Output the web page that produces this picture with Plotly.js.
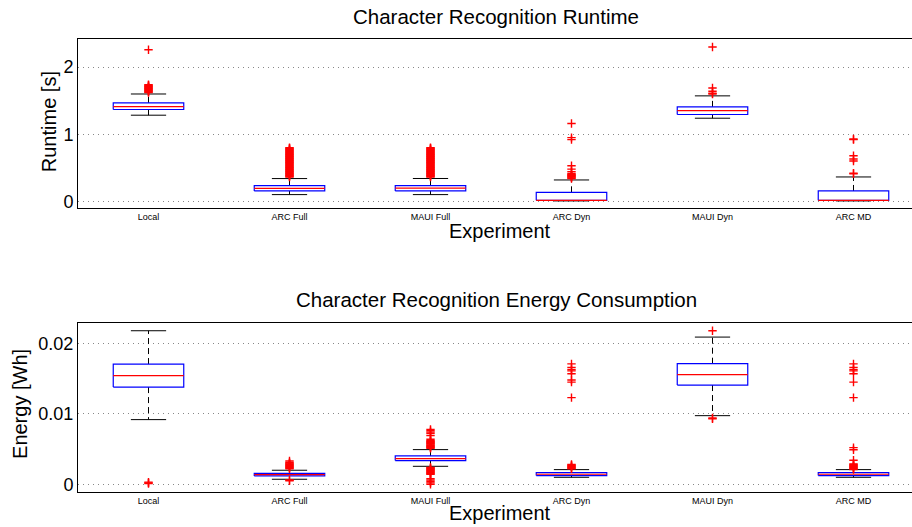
<!DOCTYPE html>
<html>
<head>
<meta charset="utf-8">
<script src="https://cdn.plot.ly/plotly-3.0.1.min.js"></script>
<style>
html,body{margin:0;padding:0;overflow:hidden;background:#fff;width:912px;height:527px;}
#chart{width:930px;height:527px;}
</style>
</head>
<body>
<div id="chart"></div>
<script>
// ---- Data ----
const categories = ["Local", "ARC Full", "MAUI Full", "ARC Dyn", "MAUI Dyn", "ARC MD"];

// Runtime [s]
const rtLow    = [1.284, 0.100, 0.100, 0.006, 1.239, 0.006];
const rtQ1     = [1.369, 0.154, 0.155, 0.014, 1.294, 0.014];
const rtMedian = [1.413, 0.194, 0.195, 0.014, 1.353, 0.014];
const rtQ3     = [1.467, 0.233, 0.235, 0.134, 1.408, 0.154];
const rtHigh   = [1.600, 0.339, 0.340, 0.318, 1.572, 0.363];
const rtOutliers = [
  [2.26, 1.62, 1.63, 1.64, 1.65, 1.66, 1.67, 1.68, 1.69, 1.70, 1.71, 1.72, 1.73, 1.74],
  [0.36, 0.37, 0.38, 0.39, 0.40, 0.41, 0.42, 0.43, 0.44, 0.45, 0.46, 0.47, 0.48, 0.49, 0.50, 0.51, 0.52, 0.53, 0.54, 0.55, 0.56, 0.57, 0.58, 0.59, 0.60, 0.61, 0.62, 0.63, 0.64, 0.65, 0.66, 0.67, 0.68, 0.69, 0.70, 0.71, 0.72, 0.73, 0.74, 0.75, 0.76, 0.77, 0.78, 0.79, 0.80],
  [0.36, 0.37, 0.38, 0.39, 0.40, 0.41, 0.42, 0.43, 0.44, 0.45, 0.46, 0.47, 0.48, 0.49, 0.50, 0.51, 0.52, 0.53, 0.54, 0.55, 0.56, 0.57, 0.58, 0.59, 0.60, 0.61, 0.62, 0.63, 0.64, 0.65, 0.66, 0.67, 0.68, 0.69, 0.70, 0.71, 0.72, 0.73, 0.74, 0.75, 0.76, 0.77, 0.78, 0.79, 0.80],
  [1.16, 0.95, 0.92, 0.53, 0.48, 0.44, 0.41, 0.40, 0.39, 0.38, 0.37, 0.36, 0.35, 0.34],
  [2.30, 1.69, 1.64, 1.61, 1.60],
  [0.93, 0.92, 0.68, 0.63, 0.60, 0.42, 0.41]
];

// Energy [Wh]
const enLow    = [0.00918, 0.00071, 0.00255, 0.00099, 0.00974, 0.00099];
const enQ1     = [0.01380, 0.00118, 0.00336, 0.00123, 0.01409, 0.00123];
const enMedian = [0.01542, 0.00137, 0.00364, 0.00142, 0.01556, 0.00142];
const enQ3     = [0.01707, 0.00156, 0.00402, 0.00166, 0.01712, 0.00166];
const enHigh   = [0.02180, 0.00199, 0.00492, 0.00208, 0.02090, 0.00208];
const enOutliers = [
  [0.0001, 0.0002, 0.0003],
  [0.0022, 0.0023, 0.0024, 0.0025, 0.0026, 0.0027, 0.0028, 0.0029, 0.0030, 0.0031, 0.0033, 0.0005, 0.0006],
  [0.0051, 0.0052, 0.0053, 0.0054, 0.0055, 0.0056, 0.0057, 0.0058, 0.0059, 0.0060, 0.0061, 0.0062, 0.0064, 0.0069, 0.0072, 0.0074, 0.0076, 0.0078,
   0.0024, 0.0023, 0.0022, 0.0021, 0.0020, 0.0019, 0.0018, 0.0017, 0.0016, 0.0015, 0.0014, 0.0008, 0.0006, 0.0004, 0.0002, 0.0000],
  [0.0171, 0.0166, 0.0163, 0.0161, 0.0157, 0.0148, 0.0145, 0.0123, 0.0022, 0.0023, 0.0024, 0.0025, 0.0026, 0.0027, 0.0028],
  [0.0218, 0.0093, 0.0094],
  [0.0171, 0.0166, 0.0163, 0.0161, 0.0157, 0.0145, 0.0123, 0.0052, 0.0049, 0.0034, 0.0029, 0.0028, 0.0027, 0.0026, 0.0025, 0.0024, 0.0023, 0.0022, 0.0021]
];

// ---- Build traces ----
const BOX_HALF = 0.25, CAP_HALF = 0.125;
function boxTraces(low, q1, med, q3, high, outs, xa, ya) {
  const bx = [], by = [], mx = [], my = [], wx = [], wy = [], cx = [], cy = [], ox = [], oy = [];
  categories.forEach((c, k) => {
    const i = k + 1;
    bx.push(i - BOX_HALF, i + BOX_HALF, i + BOX_HALF, i - BOX_HALF, i - BOX_HALF, null);
    by.push(q1[k], q1[k], q3[k], q3[k], q1[k], null);
    mx.push(i - BOX_HALF, i + BOX_HALF, null);
    my.push(med[k], med[k], null);
    wx.push(i, i, null, i, i, null);
    wy.push(q3[k], high[k], null, q1[k], low[k], null);
    cx.push(i - CAP_HALF, i + CAP_HALF, null, i - CAP_HALF, i + CAP_HALF, null);
    cy.push(high[k], high[k], null, low[k], low[k], null);
    outs[k].forEach(v => { ox.push(i); oy.push(v); });
  });
  const common = {xaxis: xa, yaxis: ya, hoverinfo: 'skip', showlegend: false};
  return [
    Object.assign({type: 'scatter', mode: 'lines', x: wx, y: wy, line: {color: '#000', width: 1, dash: '6px,4px'}}, common),
    Object.assign({type: 'scatter', mode: 'lines', x: cx, y: cy, line: {color: '#000', width: 1}}, common),
    Object.assign({type: 'scatter', mode: 'lines', x: bx, y: by, line: {color: '#0000ff', width: 1.2}}, common),
    Object.assign({type: 'scatter', mode: 'lines', x: mx, y: my, line: {color: '#ff0000', width: 1.2}}, common),
    Object.assign({type: 'scatter', mode: 'markers', x: ox, y: oy,
      marker: {symbol: 'cross-thin', size: 6, color: '#ff0000', line: {color: '#ff0000', width: 1.4}}}, common)
  ];
}

const data = [].concat(
  boxTraces(rtLow, rtQ1, rtMedian, rtQ3, rtHigh, rtOutliers, 'x', 'y'),
  boxTraces(enLow, enQ1, enMedian, enQ3, enHigh, enOutliers, 'x2', 'y2')
);

const FONT = 'Liberation Sans, Arial, Helvetica, sans-serif';
const tickvals = categories.map((c, k) => k + 1);
const xCommon = {
  range: [0.5, 6.5], tickvals: tickvals, ticktext: categories, ticks: '',
  showline: true, mirror: true, linecolor: '#000', linewidth: 1,
  showgrid: false, zeroline: false, automargin: false,
  tickfont: {family: FONT, size: 9, color: '#000'}
};
const yCommon = {
  ticks: '', showline: true, mirror: true, linecolor: '#000', linewidth: 1,
  showgrid: true, gridcolor: '#888', griddash: '1px,4px', gridwidth: 1,
  zeroline: false, automargin: false,
  tickfont: {family: FONT, size: 18, color: '#000'}
};

const layout = {
  width: 930, height: 527,
  margin: {l: 78, r: 6, t: 0, b: 0},
  paper_bgcolor: '#fff', plot_bgcolor: '#fff',
  font: {family: FONT, color: '#000'},
  xaxis: Object.assign({}, xCommon, {domain: [0, 1], anchor: 'y'}),
  yaxis: Object.assign({}, yCommon, {domain: [0.6053, 0.926], range: [-0.10, 2.42],
    tickvals: [0, 1, 2], ticktext: ['0', '1', '2'], anchor: 'x'}),
  xaxis2: Object.assign({}, xCommon, {domain: [0, 1], anchor: 'y2'}),
  yaxis2: Object.assign({}, yCommon, {domain: [0.0664, 0.3871], range: [-0.0011, 0.0229],
    tickvals: [0, 0.01, 0.02], ticktext: ['0', '0.01', '0.02'], anchor: 'x2'}),
  annotations: [
    {text: 'Character Recognition Runtime', xref: 'paper', yref: 'paper', x: 0.494, y: 0.968,
     xanchor: 'center', yanchor: 'middle', showarrow: false, font: {family: FONT, size: 20.5}},
    {text: 'Character Recognition Energy Consumption', xref: 'paper', yref: 'paper', x: 0.495, y: 0.431,
     xanchor: 'center', yanchor: 'middle', showarrow: false, font: {family: FONT, size: 20.5}},
    {text: 'Experiment', xref: 'paper', yref: 'paper', x: 0.499, y: 0.5617,
     xanchor: 'center', yanchor: 'middle', showarrow: false, font: {family: FONT, size: 20}},
    {text: 'Experiment', xref: 'paper', yref: 'paper', x: 0.499, y: 0.0266,
     xanchor: 'center', yanchor: 'middle', showarrow: false, font: {family: FONT, size: 20}},
    {text: 'Runtime [s]', xref: 'paper', yref: 'paper', x: -0.0343, y: 0.770, textangle: -90,
     xanchor: 'center', yanchor: 'middle', showarrow: false, font: {family: FONT, size: 20}},
    {text: 'Energy [Wh]', xref: 'paper', yref: 'paper', x: -0.0686, y: 0.2334, textangle: -90,
     xanchor: 'center', yanchor: 'middle', showarrow: false, font: {family: FONT, size: 20}}
  ]
};

Plotly.newPlot('chart', data, layout, {displayModeBar: false, staticPlot: true});
</script>
</body>
</html>
